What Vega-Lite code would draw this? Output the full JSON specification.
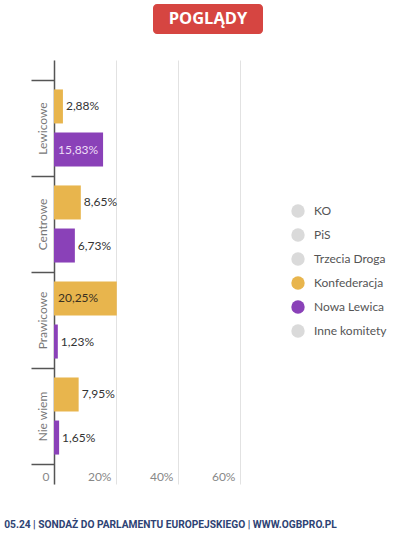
{
  "$schema": "https://vega.github.io/schema/vega-lite/v6.json",
  "background": "white",
  "padding": {"left": 4, "top": 4, "right": 5, "bottom": 5},
  "config": {"font": "Lato", "view": {"stroke": null}},
  "title": {
    "text": "05.24 | SONDAŻ DO PARLAMENTU EUROPEJSKIEGO | WWW.OGBPRO.PL",
    "orient": "bottom",
    "anchor": "start",
    "offset": 36,
    "dx": -26,
    "font": "Roboto",
    "fontSize": 10.2,
    "fontWeight": "bold",
    "color": "#2E4374"
  },
  "vconcat": [
    {
      "hconcat": [
        {
          "width": 99,
          "height": 30,
          "data": {"values": [{"label": ""}]},
          "mark": {"type": "text"},
          "encoding": {"text": {"field": "label"}}
        },
        {
          "width": 110,
          "height": 30,
          "view": {"fill": "#D64541", "cornerRadius": 4, "stroke": null},
          "data": {"values": [{"label": "POGLĄDY"}]},
          "mark": {"type": "text", "font": "Open Sans", "fontSize": 16.5, "fontWeight": "bold", "color": "white", "baseline": "middle", "align": "center"},
          "encoding": {"text": {"field": "label"}}
        }
      ],
      "spacing": 0
    },
    {
      "width": 186,
      "height": 424,
      "data": {
        "values": [
          {"group": "Lewicowe", "party": "Konfederacja", "value": 2.88},
          {"group": "Lewicowe", "party": "Nowa Lewica", "value": 15.83},
          {"group": "Centrowe", "party": "Konfederacja", "value": 8.65},
          {"group": "Centrowe", "party": "Nowa Lewica", "value": 6.73},
          {"group": "Prawicowe", "party": "Konfederacja", "value": 20.25},
          {"group": "Prawicowe", "party": "Nowa Lewica", "value": 1.23},
          {"group": "Nie wiem", "party": "Konfederacja", "value": 7.95},
          {"group": "Nie wiem", "party": "Nowa Lewica", "value": 1.65}
        ]
      },
      "transform": [
        {"calculate": "replace(format(datum.value, '.2f'), '.', ',') + '%'", "as": "label"}
      ],
      "encoding": {
        "y": {
          "field": "group",
          "type": "nominal",
          "sort": ["Lewicowe", "Centrowe", "Prawicowe", "Nie wiem"],
          "scale": {"paddingInner": 0, "paddingOuter": 0.208},
          "axis": {
            "title": null,
            "tickBand": "extent",
            "tickSize": 23,
            "tickColor": "#555",
            "tickWidth": 1.5,
            "domainColor": "#555",
            "domainWidth": 1.5,
            "labelAngle": -90,
            "labelAlign": "center",
            "labelBaseline": "middle",
            "labelPadding": -11,
            "labelFontSize": 12,
            "labelColor": "#777",
            "grid": false
          }
        },
        "yOffset": {
          "field": "party",
          "type": "nominal",
          "sort": ["Konfederacja", "Nowa Lewica"],
          "scale": {"paddingInner": 0.21, "paddingOuter": 0.22}
        }
      },
      "layer": [
        {
          "mark": {"type": "bar"},
          "encoding": {
            "x": {
              "field": "value",
              "type": "quantitative",
              "scale": {"domain": [0, 60], "nice": false},
              "axis": {
                "title": null,
                "values": [0, 20, 40, 60],
                "domain": false,
                "ticks": false,
                "tickSize": 0,
                "grid": true,
                "gridColor": "#E2E2E2",
                "labelAlign": "right",
                "labelBaseline": "middle",
                "labelOffset": -5,
                "labelPadding": -8,
                "labelFontSize": 12,
                "labelColor": "#888",
                "labelExpr": "datum.value == 0 ? '0' : datum.value + '%'"
              }
            },
            "color": {
              "field": "party",
              "type": "nominal",
              "scale": {
                "domain": ["KO", "PiS", "Trzecia Droga", "Konfederacja", "Nowa Lewica", "Inne komitety"],
                "range": ["#DADADA", "#DADADA", "#DADADA", "#E8B54D", "#8A41B8", "#DADADA"]
              },
              "legend": {
                "title": null,
                "orient": "none",
                "legendX": 237,
                "legendY": 200,
                "symbolType": "circle",
                "symbolSize": 180,
                "symbolStrokeWidth": 0,
                "symbolOpacity": 1,
                "labelOffset": 9,
                "labelFontSize": 12,
                "labelColor": "#555",
                "rowPadding": 10
              }
            }
          }
        },
        {
          "transform": [{"filter": "datum.value < 15"}],
          "mark": {"type": "text", "align": "left", "baseline": "middle", "dx": 3, "fontSize": 12, "color": "#333"},
          "encoding": {
            "x": {"field": "value", "type": "quantitative"},
            "text": {"field": "label"}
          }
        },
        {
          "transform": [{"filter": "datum.value >= 15"}],
          "mark": {"type": "text", "align": "left", "baseline": "middle", "dx": 4, "fontSize": 12},
          "encoding": {
            "x": {"datum": 0, "type": "quantitative"},
            "text": {"field": "label"},
            "color": {
              "condition": {"test": "datum.party == 'Nowa Lewica'", "value": "#EEDDF7"},
              "value": "#3A3020"
            }
          }
        }
      ]
    }
  ],
  "spacing": 25
}
